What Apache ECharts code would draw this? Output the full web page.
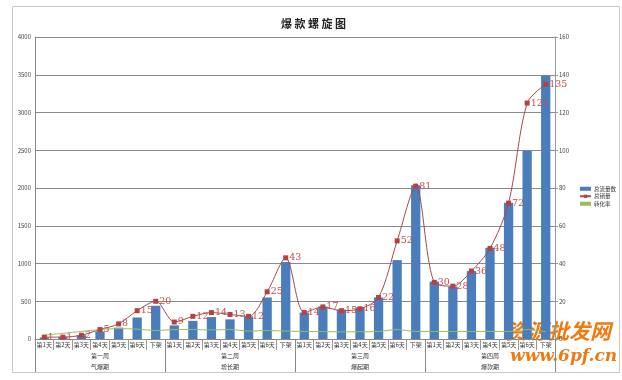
<!DOCTYPE html>
<html><head><meta charset="utf-8">
<script src="https://cdn.jsdelivr.net/npm/echarts@6/dist/echarts.min.js"></script>
<style>html,body{margin:0;padding:0;background:#fff}#c{width:622px;height:380px}</style>
</head><body><div id="c"></div>
<script>
var dayLabels = ['第1天','第2天','第3天','第4天','第5天','第6天','下架'];
var weeks = ['第一周','第二周','第三周','第四周'];
var phases = ['气爆期','增长期','爆起期','爆款期'];
var traffic = [20,30,50,100,150,285,440, 180,240,290,260,300,550,1020, 350,430,390,420,550,1045,2035, 760,695,900,1210,1805,2495,3490];
var sales = [1,1,2,5,8,15,20, 9,12,14,13,12,25,43, 14,17,15,16,22,52,81, 30,28,36,48,72,125,135];
var convRate = [2,3,4,5,5.5,5.2,4.5, 5,5,4.8,5,4.2,4.5,4.2, 4,3.9,3.8,3.8,4,5,4, 4,4,4,4,4,5,3.9];
var seriesNames = ['总流量数','总销量','转化率'];

var categories = [];
weeks.forEach(function(){ dayLabels.forEach(function(d){ categories.push(d); }); });

var chart = echarts.init(document.getElementById('c'));
var fam = '"Noto Sans CJK SC", sans-serif';
chart.setOption({
  animation:false,
  textStyle:{fontFamily:fam},
  title:{text:'爆 款 螺 旋 图', left:276, top:13, textStyle:{fontSize:11, fontWeight:'bold', color:'#222', fontFamily:fam}},
  legend:{orient:'vertical', left:574, top:181, itemWidth:11, itemHeight:4, itemGap:2,
    textStyle:{fontSize:5.5, color:'#333', padding:[0,0,0,-2]},
    data:[{name:seriesNames[0], icon:'rect'},{name:seriesNames[1]},{name:seriesNames[2], icon:'rect'}]},
  grid:{left:35, right:67, top:37, bottom:41},
  graphic:[{type:'rect', shape:{x:12.5,y:6.5,width:607,height:366}, style:{fill:'none', stroke:'#c8c8c8', lineWidth:1}, silent:true, z:-1},
    {type:'text', left:506, top:321, style:{text:'资源批发网', fill:'#f07a10', font:'italic bold 21px "Noto Sans CJK SC"'}},
    {type:'text', left:510, top:348, style:{text:'www.6pf.cn', fill:'#f07a10', font:'italic bold 17px "DejaVu Serif"'}}],
  xAxis:[
    {type:'category', data:categories, position:'bottom',
     axisLine:{lineStyle:{color:'#888'}}, axisTick:{show:true, interval:0, length:11, lineStyle:{color:'#999'}},
     axisLabel:{interval:0, fontSize:6, margin:3, color:'#333'}},
    {type:'category', data:weeks, position:'bottom', axisLine:{show:false},
     axisTick:{show:true, length:33, lineStyle:{color:'#888'}},
     axisLabel:{fontSize:6, margin:14, color:'#333'}},
    {type:'category', data:phases, position:'bottom', axisLine:{show:false}, axisTick:{show:false},
     axisLabel:{fontSize:6, margin:25, color:'#333'}}
  ],
  yAxis:[
    {type:'value', min:0, max:4000, interval:500, position:'left',
     axisLine:{show:true, lineStyle:{color:'#888'}}, axisTick:{show:false},
     axisLabel:{fontSize:6, color:'#444', margin:4, formatter:function(v){return String(v);}},
     splitLine:{lineStyle:{color:'#8a8a8a'}}},
    {type:'value', min:0, max:160, interval:20, position:'right',
     axisLine:{show:true, lineStyle:{color:'#999'}}, axisTick:{show:true, length:3, lineStyle:{color:'#999'}},
     axisLabel:{fontSize:6, color:'#444', margin:4}, splitLine:{show:false}}
  ],
  series:[
    {name:seriesNames[0], type:'bar', data:traffic, xAxisIndex:0, yAxisIndex:0, barWidth:'50%',
     itemStyle:{color:'#4a7dbb'}},
    {name:seriesNames[1], type:'line', data:sales, xAxisIndex:0, yAxisIndex:1, smooth:0.3,
     symbol:'rect', symbolSize:5, lineStyle:{color:'#a9494a', width:1}, itemStyle:{color:'#b8403f'},
     label:{show:true, position:'right', distance:1, color:'#c0504d', fontSize:9.5, fontFamily:'"DejaVu Serif", serif'}},
    {name:seriesNames[2], type:'line', data:convRate, xAxisIndex:0, yAxisIndex:1, smooth:0.3,
     symbol:'none', lineStyle:{color:'#9bbb59', width:1}, itemStyle:{color:'#9bbb59'}}
  ]
});
</script></body></html>
